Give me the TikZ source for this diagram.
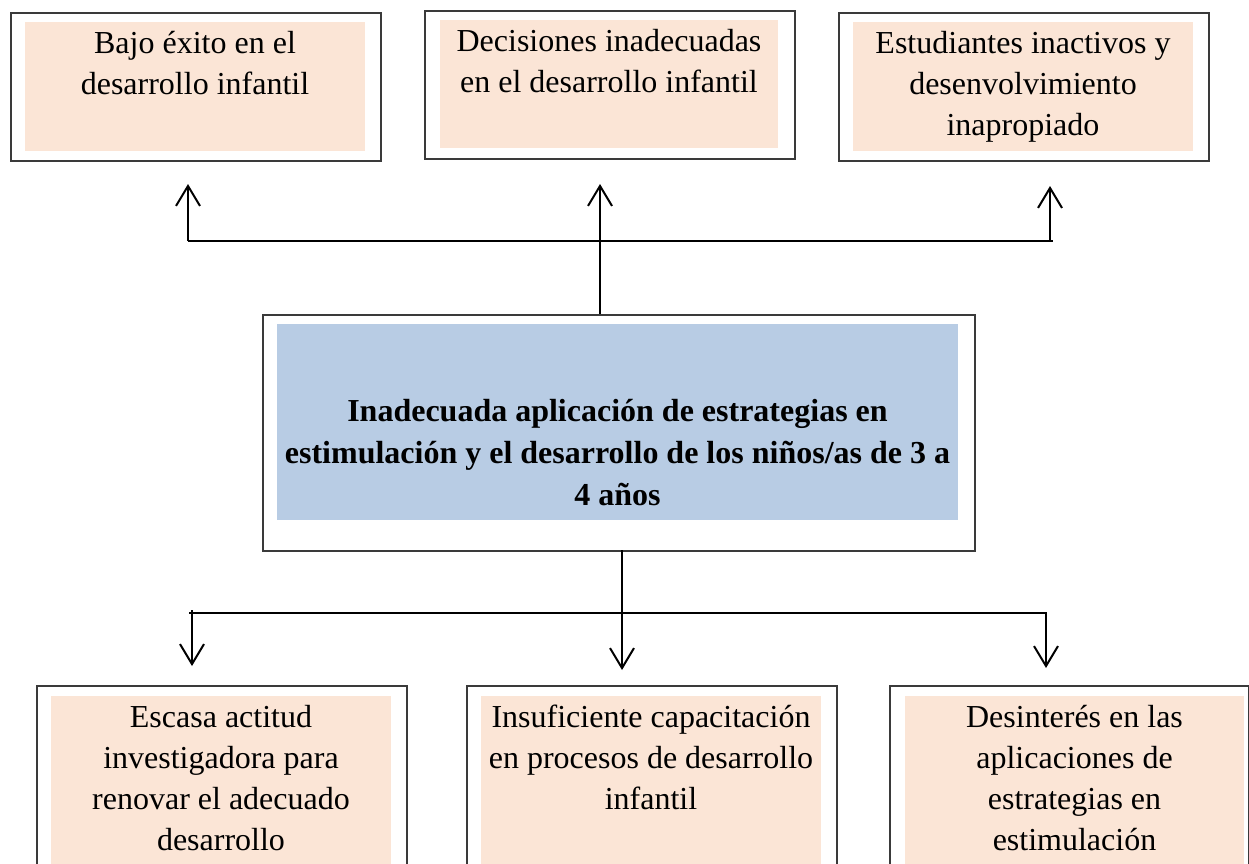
\documentclass[tikz,border=0pt]{standalone}
\usepackage{fontspec}
\setmainfont{Liberation Serif}
\usetikzlibrary{arrows.meta}
\definecolor{peach}{HTML}{FBE5D6}
\definecolor{bluefill}{HTML}{B8CCE4}
\definecolor{bordergray}{HTML}{3A3A3A}
\begin{document}
\begin{tikzpicture}[x=1pt,y=-1pt,
  outerbox/.style={draw=bordergray, line width=1.5pt, anchor=north west, inner sep=0pt, fill=white},
  fillbox/.style={fill=peach, draw=none, anchor=north west, inner sep=0pt},
  txt/.style={font=\fontsize{32}{41}\selectfont, align=center, anchor=base, inner sep=0pt},
  btxt/.style={font=\fontsize{32}{42}\selectfont\bfseries, align=center, anchor=base, inner sep=0pt},
  conn/.style={line width=2pt, draw=black},
  arr/.style={conn, -{Straight Barb[length=20pt,width=24pt]}}
]
\useasboundingbox (0,0) rectangle (1249,863);
\clip (0,0) rectangle (1249,863);

% top boxes
\node[outerbox, minimum width=370pt, minimum height=148pt] (o1) at (10,12) {};
\node[fillbox, minimum width=340pt, minimum height=129pt] (f1) at (25,22) {};
\node[txt] (t1) at (195,94) {Bajo éxito en el\\desarrollo infantil};

\node[outerbox, minimum width=370pt, minimum height=148pt] (o2) at (424,10) {};
\node[fillbox, minimum width=338pt, minimum height=128pt] (f2) at (440,20) {};
\node[txt] (t2) at (609,92) {Decisiones inadecuadas\\en el desarrollo infantil};

\node[outerbox, minimum width=370pt, minimum height=148pt] (o3) at (838,12) {};
\node[fillbox, minimum width=340pt, minimum height=129pt] (f3) at (853,22) {};
\node[txt] (t3) at (1023,135) {Estudiantes inactivos y\\desenvolvimiento\\inapropiado};

% central box
\node[outerbox, minimum width=712pt, minimum height=236pt] (oc) at (262,314) {};
\node[fillbox, fill=bluefill, minimum width=681pt, minimum height=196pt] (fc) at (277,324) {};
\node[btxt] (tc) at (617.5,505) {Inadecuada aplicación de estrategias en\\estimulación y el desarrollo de los niños/as de 3 a\\4 años};

% bottom boxes
\node[outerbox, minimum width=370pt, minimum height=200pt] (o4) at (36,685) {};
\node[fillbox, minimum width=340pt, minimum height=190pt] (f4) at (51,696) {};
\node[txt] (t4) at (221,850) {Escasa actitud\\investigadora para\\renovar el adecuado\\desarrollo};

\node[outerbox, minimum width=370pt, minimum height=200pt] (o5) at (466,685) {};
\node[fillbox, minimum width=340pt, minimum height=190pt] (f5) at (481,696) {};
\node[txt] (t5) at (651,809) {Insuficiente capacitación\\en procesos de desarrollo\\infantil};

\node[outerbox, minimum width=359pt, minimum height=200pt] (o6) at (889,685) {};
\node[fillbox, minimum width=339pt, minimum height=190pt] (f6) at (905,696) {};
\node[txt] (t6) at (1074.5,850) {Desinterés en las\\aplicaciones de\\estrategias en\\estimulación};

% top connectors
\coordinate (cUp) at (600,314);
\coordinate (tipM) at (600,184);
\coordinate (hL) at (188,241);
\coordinate (hR) at (1053,241);
\coordinate (tipL) at (188,184);
\coordinate (baseR) at (1050,241);
\coordinate (tipR) at (1050,186);
\draw[arr] (cUp) -- (tipM);
\draw[conn] (hL) -- (hR);
\draw[arr] (hL) -- (tipL);
\draw[arr] (baseR) -- (tipR);

% bottom connectors
\coordinate (cDown) at (622,550);
\coordinate (tipBM) at (622,670);
\coordinate (bL) at (189,613);
\coordinate (bR) at (1047,613);
\coordinate (bLs) at (192,610);
\coordinate (tipBL) at (192,666);
\coordinate (bRs) at (1046,612);
\coordinate (tipBR) at (1046,668);
\draw[arr] (cDown) -- (tipBM);
\draw[conn] (bL) -- (bR);
\draw[arr] (bLs) -- (tipBL);
\draw[arr] (bRs) -- (tipBR);
\end{tikzpicture}
\end{document}
